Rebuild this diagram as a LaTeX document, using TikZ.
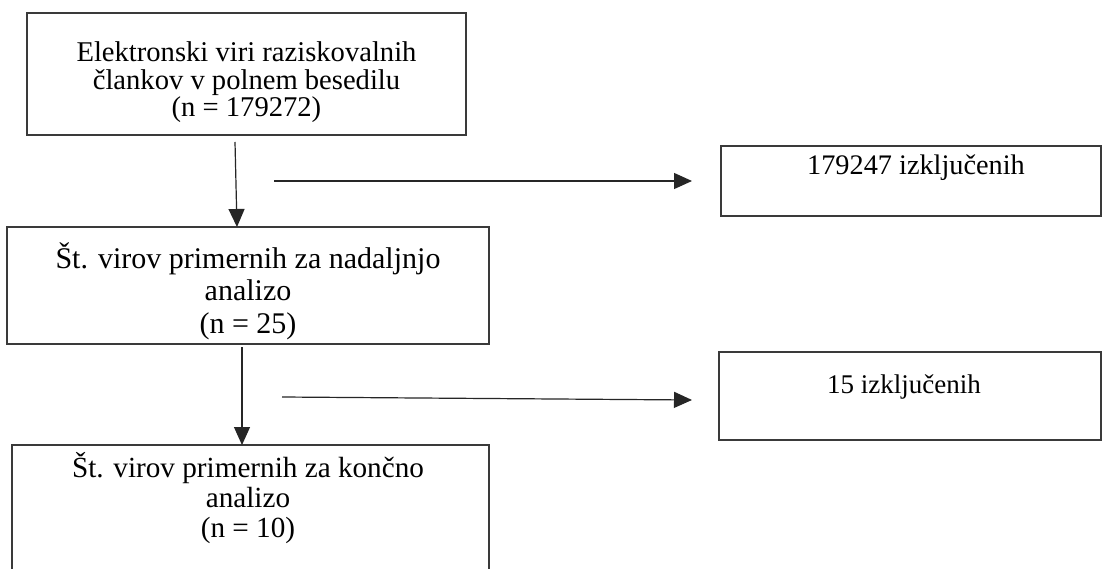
\documentclass[tikz,border=0pt]{standalone}
\usepackage{fontspec}
\setmainfont{Liberation Serif}
\usetikzlibrary{arrows.meta}
\definecolor{edge}{HTML}{3A3A3A}
\tikzset{
  box/.style={draw=edge, line width=1.3pt, inner sep=0pt, outer sep=0pt, anchor=north west},
  txt/.style={inner sep=0pt, outer sep=0pt, align=center, anchor=base, text=black},
  arr/.style={draw=black!85, line width=1.2pt, -{Triangle[width=16pt,length=18pt]}},
}
\begin{document}
\begin{tikzpicture}[x=1pt,y=-1pt]
  \clip (0,0) rectangle (1102,569);
  \fill[white] (0,0) rectangle (1102,569);

  % boxes
  \node[box, minimum width=439pt, minimum height=122pt] (b1) at (27,13) {};
  \node[box, minimum width=482pt, minimum height=117pt] (b2) at (7,227) {};
  \node[box, minimum width=380pt, minimum height=70pt]  (b3) at (721,146) {};
  \node[box, minimum width=477pt, minimum height=140pt] (b4) at (12,445) {};
  \node[box, minimum width=382pt, minimum height=88pt]  (b5) at (719,352) {};

  % texts (base anchor = baseline of the last line)
  \node[txt, font=\fontsize{28.6}{27.5}\selectfont] (t1) at (246.5,117)
    {Elektronski viri raziskovalnih\\člankov v polnem besedilu\\(n = 179272)};
  \node[txt, font=\fontsize{30}{32.5}\selectfont] (t2) at (248,333)
    {Št. virov primernih za nadaljnjo\\analizo\\(n = 25)};
  \node[txt, font=\fontsize{28.3}{30}\selectfont] (t3) at (916,175)
    {179247 izključenih};
  \node[txt, font=\fontsize{29.2}{30}\selectfont] (t4) at (248,537)
    {Št. virov primernih za končno\\analizo\\(n = 10)};
  \node[txt, font=\fontsize{27}{30}\selectfont] (t5) at (904,393)
    {15 izključenih};

  % free ends of the connectors
  \coordinate (d1) at (235,142);
  \coordinate (d2) at (242,347);
  \coordinate (h1) at (274,181);
  \coordinate (h1e) at (692,181);
  \coordinate (h2) at (282,397);
  \coordinate (h2e) at (692,400);

  % connectors
  \draw[arr] (d1) -- (237,0 |- b2.north);
  \draw[arr] (d2) -- (d2 |- b4.north);
  \draw[arr] (h1) -- (h1e);
  \draw[arr] (h2) -- (h2e);
\end{tikzpicture}
\end{document}
